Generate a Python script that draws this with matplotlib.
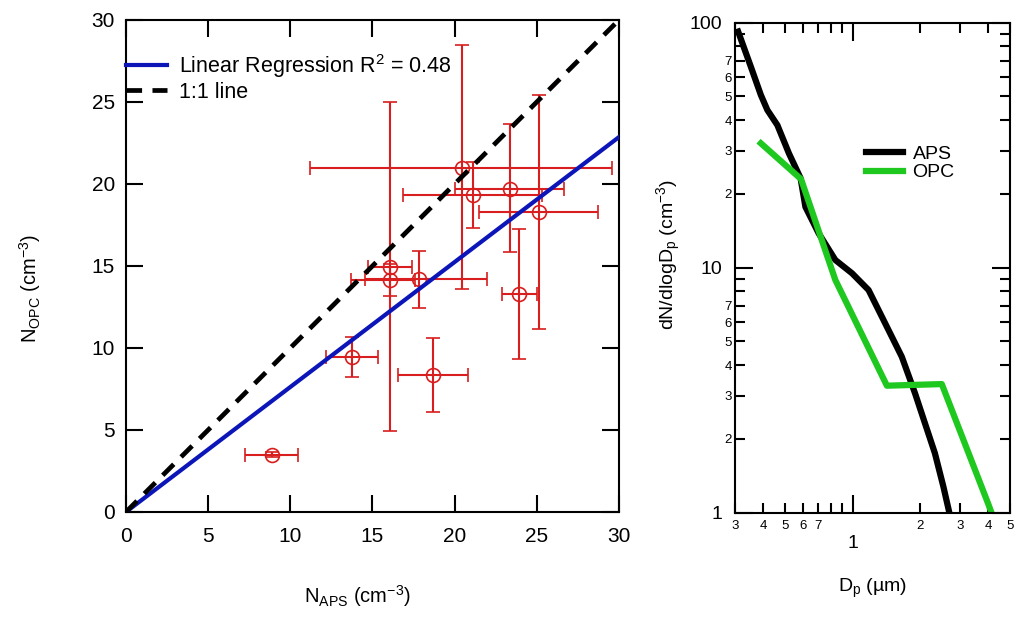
import matplotlib
matplotlib.use("Agg")
import matplotlib.pyplot as plt
import matplotlib.ticker as mticker
import numpy as np

plt.rcParams['font.family'] = ['Liberation Sans', 'DejaVu Sans']
plt.rcParams['mathtext.fontset'] = 'custom'
plt.rcParams['mathtext.rm'] = 'Liberation Sans'
plt.rcParams['mathtext.it'] = 'Liberation Sans'

# Panel (a): N_OPC vs N_APS, with error ranges
n_aps = [8.87, 13.78, 16.07, 16.07, 17.83, 18.66, 20.43, 21.10, 23.37, 25.16, 23.94]
n_aps_lo = [7.24, 12.15, 14.75, 13.70, 14.55, 16.53, 11.20, 16.84, 20.00, 21.50, 22.90]
n_aps_hi = [10.45, 15.36, 17.43, 17.60, 21.95, 20.84, 29.60, 25.30, 26.66, 28.75, 25.00]
n_opc = [3.48, 9.43, 14.96, 14.15, 14.19, 8.35, 20.95, 19.33, 19.70, 18.31, 13.29]
n_opc_lo = [3.33, 8.25, 4.94, 13.17, 12.42, 6.12, 13.58, 17.30, 15.87, 11.14, 9.33]
n_opc_hi = [3.63, 10.65, 25.00, 15.10, 15.94, 10.59, 28.50, 21.32, 23.64, 25.40, 17.24]
reg_slope = 0.762
reg_r2 = 0.48

# Panel (b): size distributions
dp_aps = [0.31, 0.353, 0.391, 0.418, 0.463, 0.521, 0.587, 0.617, 0.707, 0.838,
          0.994, 1.177, 1.395, 1.654, 1.894, 2.028, 2.32, 2.53, 2.69]
dn_aps = [92.0, 66.1, 50.7, 44.0, 38.2, 29.3, 23.2, 17.7, 13.8, 10.75,
          9.49, 8.11, 5.93, 4.33, 3.07, 2.54, 1.75, 1.28, 1.0]
dp_opc = [0.391, 0.59, 0.838, 1.42, 2.49, 4.0, 4.14]
dn_opc = [32.2, 23.0, 8.91, 3.30, 3.35, 1.09, 1.0]

red = '#d81e1e'
fig = plt.figure(figsize=(10.15, 6.19), dpi=100)

# ---- left panel
ax = fig.add_axes([0.1241, 0.1729, 0.4857, 0.7948])
x = np.array(n_aps)
y = np.array(n_opc)
xerr = [x - np.array(n_aps_lo), np.array(n_aps_hi) - x]
yerr = [y - np.array(n_opc_lo), np.array(n_opc_hi) - y]
ax.errorbar(x, y, xerr=xerr, yerr=yerr, fmt='o', mfc='none', mec=red,
            ms=10, mew=1.2, ecolor=red, elinewidth=1.5, capsize=4.8,
            capthick=1.5, zorder=2)
xx = np.array([0, 30])
ax.plot(xx, reg_slope * xx, color='#0c16b8', lw=3, zorder=3,
        label='Linear Regression R$^2$ = %.2f' % reg_r2)
ax.plot(xx, xx, color='black', lw=3.4, ls=(0, (3.3, 2.2)), zorder=3, label='1:1 line')
ax.set_xlim(0, 30)
ax.set_ylim(0, 30)
ax.set_xticks(range(0, 31, 5))
ax.set_yticks(range(0, 31, 5))
ax.tick_params(direction='in', length=12, width=1.5, labelsize=15, pad=8,
               top=True, right=True)
ax.tick_params(axis='x', pad=11)
for s in ax.spines.values():
    s.set_linewidth(1.5)
ax.set_xlabel('N$_{\\mathrm{APS}}$ (cm$^{-3}$)', fontsize=14.5, va='top')
ax.xaxis.set_label_coords(0.47, -0.145)
ax.set_ylabel('N$_{\\mathrm{OPC}}$ (cm$^{-3}$)', fontsize=14.5)
ax.yaxis.set_label_coords(-0.168, 0.455)
ax.legend(loc='upper left', bbox_to_anchor=(0, 0.935), frameon=False,
          fontsize=15.5, handlelength=1.9, handletextpad=0.55, labelspacing=0.1,
          borderpad=0, borderaxespad=0)

# ---- right panel
bx = fig.add_axes([0.7241, 0.1717, 0.2709, 0.7916])
bx.plot(dp_aps, dn_aps, color='black', lw=4.5, label='APS', solid_joinstyle='round')
bx.plot(dp_opc, dn_opc, color='#1ec81e', lw=4.5, label='OPC', solid_joinstyle='round')
bx.set_xscale('log')
bx.set_yscale('log')
bx.set_xlim(0.3, 5)
bx.set_ylim(1, 100)

bx.xaxis.set_major_locator(mticker.FixedLocator([1]))
bx.xaxis.set_major_formatter(mticker.FixedFormatter(['1']))
xminor = [0.3, 0.4, 0.5, 0.6, 0.7, 0.8, 0.9, 2, 3, 4, 5]
xminor_lab = ['3', '4', '5', '6', '7', '', '', '2', '3', '4', '5']
bx.xaxis.set_minor_locator(mticker.FixedLocator(xminor))
bx.xaxis.set_minor_formatter(mticker.FixedFormatter(xminor_lab))

bx.yaxis.set_major_locator(mticker.FixedLocator([1, 10, 100]))
bx.yaxis.set_major_formatter(mticker.FixedFormatter(['1', '10', '100']))
yminor = [m * d for d in (1, 10) for m in range(2, 10)]
yminor_lab = [str(m) if m <= 7 else '' for d in (1, 10) for m in range(2, 10)]
bx.yaxis.set_minor_locator(mticker.FixedLocator(yminor))
bx.yaxis.set_minor_formatter(mticker.FixedFormatter(yminor_lab))

bx.tick_params(which='both', direction='in', top=True, right=True, width=1.5)
bx.tick_params(which='major', length=13, labelsize=14)
bx.tick_params(which='minor', length=7, labelsize=9.5)
bx.tick_params(axis='x', which='major', pad=16)
bx.tick_params(axis='x', which='minor', pad=5)
bx.tick_params(axis='y', which='major', pad=9)
bx.tick_params(axis='y', which='minor', pad=2)
for s in bx.spines.values():
    s.set_linewidth(1.5)
bx.set_xlabel('D$_{\\mathrm{p}}$ (\u00b5m)', fontsize=14, va='top')
bx.xaxis.set_label_coords(0.5, -0.13)
bx.set_ylabel('dN/dlogD$_{\\mathrm{p}}$ (cm$^{-3}$)', fontsize=14)
bx.yaxis.set_label_coords(-0.19, 0.526)
bx.legend(loc='upper left', bbox_to_anchor=(0.476, 0.75), frameon=False,
          fontsize=14, handlelength=1.9, handletextpad=0.5, labelspacing=0.05,
          borderpad=0, borderaxespad=0)

fig.savefig('out.png', dpi=100)
